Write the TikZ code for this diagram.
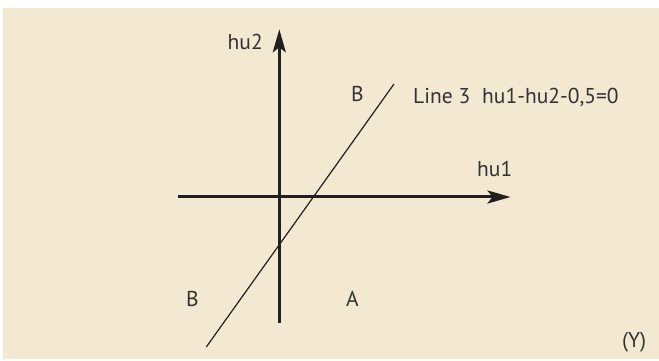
\documentclass[tikz,border=0pt]{standalone}
\usepackage{fontspec}
\setmainfont{PT Sans}
\usetikzlibrary{arrows.meta}
\definecolor{bgbeige}{HTML}{F3E8D2}
\definecolor{ink}{HTML}{231F20}
\definecolor{txt}{HTML}{333333}
\begin{document}
\begin{tikzpicture}[x=1pt,y=1pt,
  axis/.style={line width=3pt,draw=ink,-{Stealth[length=23pt,width=13pt,inset=5pt]}},
  sep/.style={line width=1.2pt,draw=ink},
  lbl/.style={inner sep=0pt,text=txt,font=\fontsize{21.5}{25}\selectfont}]
\useasboundingbox (0,0) rectangle (659,361);
\fill[white] (0,0) rectangle (659,361);
\fill[bgbeige] (3,2) rectangle (659,353);
% coordinates
\coordinate (xs) at (178,164);
\coordinate (xe) at (510.5,164);
\coordinate (ys) at (279.3,38.3);
\coordinate (ye) at (279.3,331.7);
\coordinate (ls) at (206.3,14);
\coordinate (le) at (394,277);
% axes
\draw[axis] (xs) -- (xe);
\draw[axis] (ys) -- (ye);
\draw[sep] (ls) -- (le);
% labels
\node[lbl,anchor=base east] (hu2) at (263,311) {hu2};
\node[lbl,anchor=base west] (hu1) at (477,184) {hu1};
\node[lbl,anchor=base west] (btop) at (351,259) {B};
\node[lbl,anchor=base west] (line3) at (413,257) {Line 3\hspace{12pt}hu1-hu2-0,5=0};
\node[lbl,anchor=base west] (bbot) at (186,54) {B};
\node[lbl,anchor=base west] (a) at (346,54) {A};
\node[lbl,anchor=base west] (y) at (622,13) {(Y)};
\end{tikzpicture}
\end{document}
